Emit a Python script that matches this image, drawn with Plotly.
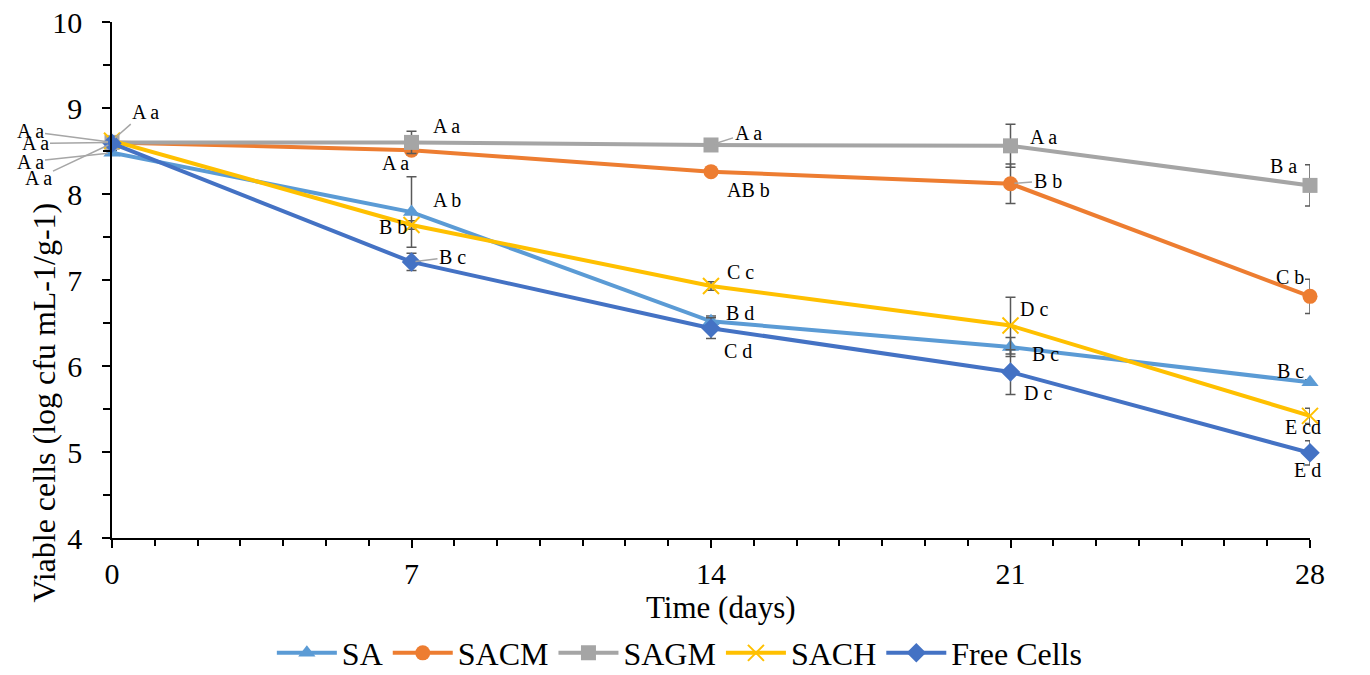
import plotly.graph_objects as go

days = [0, 7, 14, 21, 28]

series_names = ["SA", "SACM", "SAGM", "SACH", "Free Cells"]
sa_vals = [8.48, 7.79, 6.52, 6.22, 5.81]
sacm_vals = [8.60, 8.51, 8.26, 8.12, 6.81]
sagm_vals = [8.60, 8.60, 8.57, 8.56, 8.10]
sach_vals = [8.62, 7.64, 6.93, 6.47, 5.42]
free_vals = [8.59, 7.21, 6.44, 5.93, 4.99]

sa_err = [0.03, 0.41, 0.06, 0.11, 0.03]
sacm_err = [0.03, 0.05, 0.05, 0.23, 0.20]
sagm_err = [0.03, 0.13, 0.05, 0.25, 0.24]
sach_err = [0.03, 0.05, 0.05, 0.33, 0.09]
free_err = [0.03, 0.10, 0.12, 0.26, 0.14]

sa_labels = ["A a", "A b", "B d", "B c", "B c"]
sacm_labels = ["A a", "A a", "AB b", "B b", "C b"]
sagm_labels = ["A a", "A a", "A a", "A a", "B a"]
sach_labels = ["A a", "B b", "C c", "D c", "E cd"]
free_labels = ["A a", "B c", "C d", "D c", "E d"]

colors = ["#5B9BD5", "#ED7D31", "#A5A5A5", "#FFC000", "#4472C4"]
symbols = ["triangle-up", "circle", "square", "x-thin-open", "diamond"]
values = [sa_vals, sacm_vals, sagm_vals, sach_vals, free_vals]
errors = [sa_err, sacm_err, sagm_err, sach_err, free_err]
labels = [sa_labels, sacm_labels, sagm_labels, sach_labels, free_labels]

FONT = "Liberation Serif"
ERR_COLOR = "#595959"
LEAD_COLOR = "#A6A6A6"

fig = go.Figure()
for name, vals, err, col, sym in zip(series_names, values, errors, colors, symbols):
    marker = dict(symbol=sym, size=15, color=col)
    if sym == "x-thin-open":
        marker = dict(symbol=sym, size=16, color=col, line=dict(color=col, width=2))
    fig.add_trace(go.Scatter(
        x=days, y=vals, name=name, mode="lines+markers",
        line=dict(color=col, width=4),
        marker=marker,
        error_y=dict(type="data", array=err, visible=True, color=ERR_COLOR,
                     thickness=1.5, width=5),
        cliponaxis=False,
    ))

# label offsets (pixels) relative to each point: (dx, dy_up, leader)
offsets = {
    "SA":         [(-82, -9, True), (35, 12, False), (29, 8, False), (35, -7, False), (-20, 11, False)],
    "SACM":       [(-77, -1, True), (-16, -13, False), (37, -18, False), (37, 3, True), (-20, 19, False)],
    "SAGM":       [(-82, 11, True), (35, 16, False), (37, 12, True), (33, 9, False), (-27, 19, False)],
    "SACH":       [(33, 29, True), (-19, -2, False), (29, 14, False), (23, 17, False), (-7, -11, False)],
    "Free Cells": [(-74, -35, True), (41, 5, True), (27, -23, False), (27, -21, False), (-3, -17, False)],
}

for name, vals, labs in zip(series_names, values, labels):
    for d, v, t, (dx, dy, lead) in zip(days, vals, labs, offsets[name]):
        if lead:
            fig.add_annotation(x=d, y=v, xref="x", yref="y", text=t,
                               showarrow=True, arrowhead=0, arrowwidth=1.5,
                               arrowcolor=LEAD_COLOR, ax=dx, ay=-dy, standoff=4,
                               font=dict(family=FONT, size=20, color="#000000"))
        else:
            fig.add_annotation(x=d, y=v, xref="x", yref="y", text=t,
                               showarrow=False, xshift=dx, yshift=dy,
                               font=dict(family=FONT, size=20, color="#000000"))

# axis titles
fig.add_annotation(text="Time (days)", xref="paper", yref="paper", x=0.508, y=-0.134,
                   xanchor="center", yanchor="middle", showarrow=False,
                   font=dict(family=FONT, size=31, color="#000000"))
fig.add_annotation(text="Viable cells (log cfu mL-1/g-1)", xref="paper", yref="paper",
                   x=-0.057, y=0.262, xanchor="center", yanchor="middle", textangle=-90,
                   showarrow=False, font=dict(family=FONT, size=32, color="#000000"))

fig.update_xaxes(range=[0, 28], tickmode="array", tickvals=days,
                 ticks="outside", ticklen=8, tickwidth=1.5, tickcolor="#000000",
                 showline=True, linecolor="#000000", linewidth=1.5,
                 showgrid=False, zeroline=False,
                 minor=dict(dtick=1, ticks="outside", ticklen=6, tickwidth=1.5, tickcolor="#000000", showgrid=False),
                 tickfont=dict(family=FONT, size=30, color="#000000"),
                 ticklabelstandoff=0, ticklabeloverflow="allow")
fig.update_yaxes(range=[4, 10], dtick=1, ticks="outside", ticklen=8, tickwidth=1.5,
                 tickcolor="#000000", showline=True, linecolor="#000000", linewidth=1.5,
                 showgrid=False, zeroline=False,
                 minor=dict(dtick=0.5, ticks="outside", ticklen=7, tickwidth=1.5, tickcolor="#000000", showgrid=False),
                 tickfont=dict(family=FONT, size=30, color="#000000"),
                 ticklabelstandoff=14, ticklabeloverflow="allow")

fig.update_layout(
    width=1362, height=667,
    margin=dict(l=104, r=60, t=14, b=137, autoexpand=False),
    paper_bgcolor="#FFFFFF", plot_bgcolor="#FFFFFF",
    font=dict(family=FONT, color="#000000"),
    showlegend=True,
    legend=dict(orientation="h", x=0.474, y=-0.223, xanchor="center", yanchor="middle",
                font=dict(family=FONT, size=32, color="#000000"),
                itemwidth=60, tracegroupgap=0, bgcolor="rgba(0,0,0,0)"),
)

fig.write_html("out.html")
